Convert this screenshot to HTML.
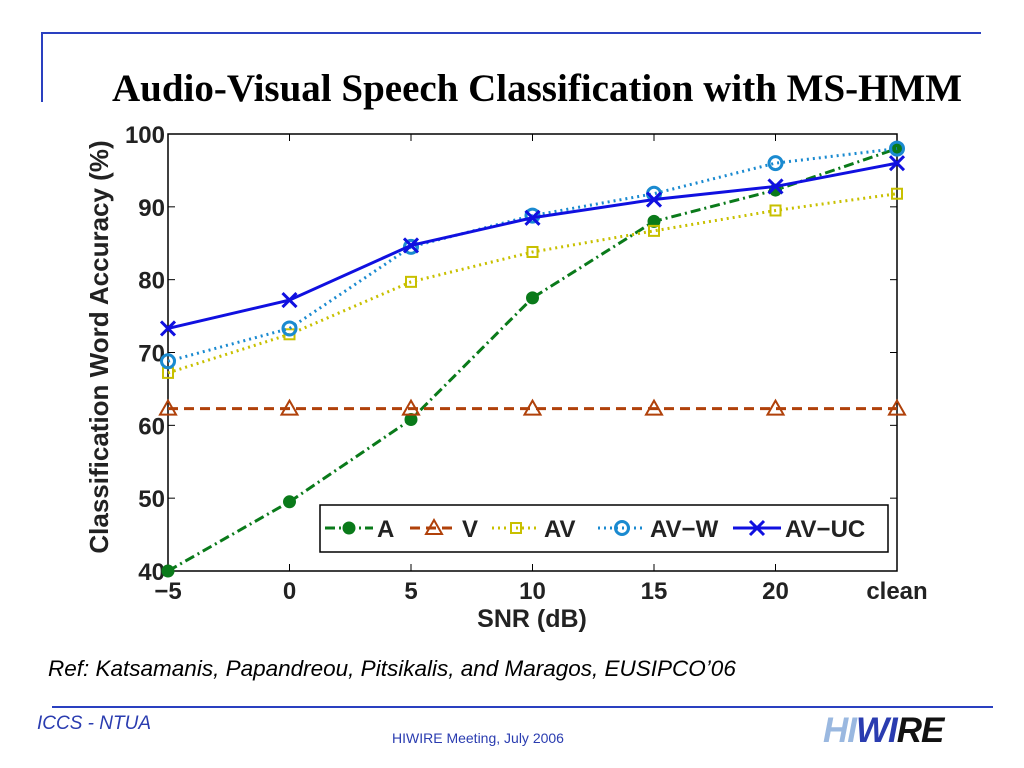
<!DOCTYPE html>
<html><head><meta charset="utf-8"><style>
body{margin:0;width:1024px;height:768px;background:#fff;position:relative;overflow:hidden;font-family:"Liberation Sans",sans-serif}
.a{position:absolute;white-space:nowrap}
</style></head><body>
<div class="a" style="left:42px;top:32px;width:939px;height:2px;background:#2a40c0"></div>
<div class="a" style="left:41px;top:32px;width:2px;height:70px;background:#2a40c0"></div>
<div class="a" style="left:112px;top:66px;font-family:'Liberation Serif',serif;font-weight:bold;font-size:39px;color:#000">Audio-Visual Speech Classification with MS-HMM</div>
<svg class="a" style="left:0;top:0" width="1024" height="768">
<g id="g"></g>
</svg>
<div class="a" style="left:48px;top:656px;font-style:italic;font-size:22.5px;color:#000">Ref: Katsamanis, Papandreou, Pitsikalis, and Maragos, EUSIPCO’06</div>
<div class="a" style="left:52px;top:706px;width:941px;height:2px;background:#2a40c0"></div>
<div class="a" style="left:37px;top:713px;font-style:italic;font-size:19px;color:#2a3cb0">ICCS - NTUA</div>
<div class="a" style="left:392px;top:730px;font-size:14px;color:#2a3cb0">HIWIRE Meeting, July 2006</div>
<div class="a" style="left:823px;top:711px;font-style:italic;font-weight:bold;font-size:35px;letter-spacing:-1px"><span style="color:#9ab8e0">HI</span><span style="color:#2a3cb0">WI</span><span style="color:#111">RE</span></div>
<script>
const categories=["−5","0","5","10","15","20","clean"];
const yTicks=[40,50,60,70,80,90,100];
const seriesA=[40,49.5,60.8,77.5,88,92.3,98];
const seriesV=[62.3,62.3,62.3,62.3,62.3,62.3,62.3];
const seriesAV=[67.2,72.5,79.7,83.8,86.7,89.5,91.8];
const seriesAVW=[68.8,73.3,84.5,88.8,91.8,96,98];
const seriesAVUC=[73.3,77.2,84.7,88.5,91,92.8,96];
const L=168,R=897,T=134,B=571;
const x=i=>L+(R-L)*i/(categories.length-1);
const y=v=>B-(v-40)/60*(B-T);
const g=document.getElementById('g');
const NS="http://www.w3.org/2000/svg";
function el(t,a,p){const e=document.createElementNS(NS,t);for(const k in a)e.setAttribute(k,a[k]);(p||g).appendChild(e);return e;}
let e=el('rect',{x:L,y:T,width:R-L,height:B-T,fill:'#fff',stroke:'#000','stroke-width':1.5});

yTicks.forEach(v=>{el('line',{x1:L,x2:L+7,y1:y(v),y2:y(v),stroke:'#000'});el('line',{x1:R,x2:R-7,y1:y(v),y2:y(v),stroke:'#000'});
const t=el('text',{x:L-3,y:y(v)+9,'text-anchor':'end','font-size':24,'font-weight':'bold',fill:'#222'});t.textContent=v;
});
categories.forEach((c,i)=>{el('line',{x1:x(i),x2:x(i),y1:B,y2:B-7,stroke:'#000'});el('line',{x1:x(i),x2:x(i),y1:T,y2:T+7,stroke:'#000'});
const t=el('text',{x:x(i),y:B+28,'text-anchor':'middle','font-size':24,'font-weight':'bold',fill:'#222'});t.textContent=c;
});
let xt=el('text',{x:532,y:627,'text-anchor':'middle','font-size':25,'font-weight':'bold',fill:'#222'});xt.textContent='SNR (dB)';

let yt=el('text',{x:0,y:0,transform:'translate(108,347) rotate(-90)','text-anchor':'middle','font-size':26,'font-weight':'bold',fill:'#222'});yt.textContent='Classification Word Accuracy (%)';

function marker(type,cx,cy,col,p){
 if(type=='dot')el('circle',{cx,cy,r:6,fill:col,stroke:col},p);
 if(type=='tri')el('polygon',{points:`${cx},${cy-8} ${cx-8},${cy+6} ${cx+8},${cy+6}`,fill:'none',stroke:col,'stroke-width':2},p);
 if(type=='sq')el('rect',{x:cx-5,y:cy-5,width:10,height:10,fill:'none',stroke:col,'stroke-width':2},p);
 if(type=='circ')el('circle',{cx,cy,r:6.5,fill:'none',stroke:col,'stroke-width':3},p);
 if(type=='x'){el('path',{d:`M${cx-7},${cy-7}L${cx+7},${cy+7}M${cx-7},${cy+7}L${cx+7},${cy-7}`,stroke:col,'stroke-width':3},p);}
}
const S=[
 {n:'A',d:seriesA,c:'#0a7a1a',da:'10,4,2,4',m:'dot'},
 {n:'V',d:seriesV,c:'#b0410a',da:'10,6',m:'tri'},
 {n:'AV',d:seriesAV,c:'#c8c000',da:'2,4',m:'sq'},
 {n:'AV−W',d:seriesAVW,c:'#1a8ad0',da:'2,4',m:'circ'},
 {n:'AV−UC',d:seriesAVUC,c:'#1010e0',da:'',m:'x'}];
S.forEach(s=>{const grp=el('g',{});
 el('polyline',{points:s.d.map((v,i)=>x(i)+','+y(v)).join(' '),fill:'none',stroke:s.c,'stroke-width':3,'stroke-dasharray':s.da},grp);
 s.d.forEach((v,i)=>marker(s.m,x(i),y(v),s.c,grp));});
const lg=el('g',{});
el('rect',{x:320,y:505,width:568,height:47,fill:'#fff',stroke:'#000','stroke-width':1.5},lg);
const lx=[325,410,492,598,733];
S.forEach((s,i)=>{const e=el('g',{},lg);
 el('line',{x1:lx[i],x2:lx[i]+48,y1:528,y2:528,stroke:s.c,'stroke-width':3,'stroke-dasharray':s.da},e);
 marker(s.m,lx[i]+24,528,s.c,e);
 const t=el('text',{x:lx[i]+52,y:537,'font-size':24,'font-weight':'bold',fill:'#222'},e);t.textContent=s.n;});
</script>
</body></html>
